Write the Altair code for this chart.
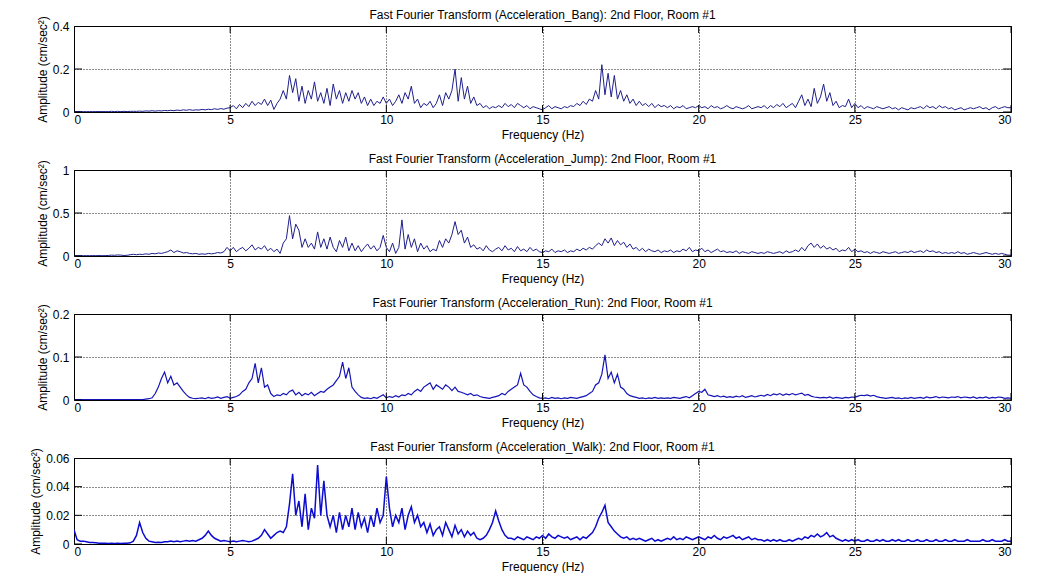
import altair as alt
import pandas as pd

# frequency grid (Hz), 0.1 Hz resolution
freq = [round(i * 0.1, 1) for i in range(301)]

bang = [
    0.002,0.002,0.002,0.002,0.002,0.002,0.002,0.002,0.002,0.002,
    0.002,0.002,0.003,0.002,0.003,0.002,0.003,0.002,0.003,0.003,
    0.003,0.004,0.003,0.005,0.004,0.006,0.004,0.006,0.005,0.007,
    0.006,0.008,0.006,0.009,0.007,0.01,0.008,0.011,0.008,0.01,
    0.009,0.012,0.01,0.013,0.011,0.015,0.012,0.016,0.013,0.018,
    0.02,0.03,0.015,0.035,0.02,0.04,0.025,0.05,0.03,0.045,
    0.035,0.06,0.03,0.055,0.012,0.04,0.06,0.1,0.06,0.17,
    0.09,0.155,0.05,0.12,0.04,0.1,0.06,0.14,0.05,0.09,
    0.04,0.11,0.03,0.13,0.06,0.1,0.04,0.09,0.05,0.1,
    0.06,0.09,0.04,0.07,0.03,0.06,0.03,0.05,0.04,0.07,
    0.04,0.06,0.03,0.05,0.08,0.04,0.09,0.06,0.12,0.04,
    0.06,0.02,0.04,0.03,0.05,0.02,0.04,0.08,0.03,0.09,
    0.06,0.1,0.2,0.05,0.16,0.06,0.12,0.04,0.07,0.03,
    0.04,0.02,0.03,0.015,0.025,0.02,0.03,0.02,0.04,0.025,
    0.035,0.02,0.04,0.03,0.02,0.03,0.015,0.025,0.02,0.015,
    0.01,0.02,0.03,0.015,0.025,0.02,0.015,0.025,0.02,0.03,
    0.025,0.04,0.03,0.05,0.035,0.06,0.05,0.1,0.06,0.22,
    0.08,0.18,0.07,0.17,0.06,0.1,0.05,0.08,0.04,0.06,
    0.03,0.05,0.03,0.04,0.025,0.04,0.02,0.035,0.025,0.03,
    0.02,0.03,0.015,0.025,0.02,0.03,0.015,0.02,0.025,0.02,
    0.03,0.02,0.025,0.015,0.03,0.02,0.025,0.015,0.02,0.03,
    0.02,0.015,0.025,0.02,0.015,0.02,0.03,0.015,0.02,0.025,
    0.02,0.03,0.015,0.03,0.02,0.035,0.025,0.04,0.02,0.03,
    0.04,0.02,0.05,0.08,0.03,0.06,0.025,0.11,0.04,0.07,
    0.13,0.05,0.09,0.03,0.05,0.02,0.03,0.025,0.06,0.02,
    0.04,0.02,0.03,0.015,0.025,0.02,0.015,0.025,0.02,0.015,
    0.02,0.025,0.015,0.02,0.01,0.02,0.015,0.01,0.02,0.015,
    0.02,0.025,0.015,0.03,0.02,0.025,0.015,0.03,0.02,0.025,
    0.015,0.02,0.01,0.015,0.02,0.01,0.015,0.02,0.015,0.02,
    0.025,0.015,0.02,0.01,0.02,0.025,0.015,0.02,0.025,0.02,
    0.02,
]

jump = [
    0.005,0.004,0.005,0.004,0.005,0.004,0.005,0.004,0.005,0.004,
    0.005,0.006,0.01,0.008,0.012,0.01,0.006,0.008,0.015,0.02,
    0.015,0.02,0.018,0.025,0.02,0.03,0.025,0.035,0.03,0.04,
    0.05,0.07,0.04,0.06,0.05,0.035,0.04,0.03,0.025,0.03,
    0.02,0.025,0.02,0.03,0.025,0.03,0.04,0.035,0.05,0.1,
    0.06,0.1,0.05,0.08,0.1,0.06,0.09,0.13,0.07,0.1,
    0.08,0.12,0.06,0.09,0.05,0.08,0.03,0.15,0.2,0.47,
    0.2,0.37,0.3,0.1,0.2,0.1,0.15,0.08,0.28,0.1,
    0.2,0.08,0.22,0.1,0.05,0.18,0.1,0.22,0.06,0.15,
    0.06,0.12,0.05,0.1,0.14,0.08,0.12,0.06,0.1,0.24,
    0.1,0.05,0.15,0.03,0.1,0.42,0.08,0.25,0.1,0.2,
    0.05,0.15,0.08,0.12,0.05,0.08,0.06,0.18,0.1,0.2,
    0.15,0.25,0.4,0.25,0.3,0.15,0.22,0.1,0.13,0.08,
    0.1,0.06,0.12,0.07,0.05,0.08,0.1,0.06,0.12,0.07,
    0.09,0.05,0.11,0.06,0.08,0.05,0.1,0.06,0.08,0.05,
    0.04,0.06,0.05,0.08,0.04,0.06,0.05,0.07,0.04,0.06,
    0.05,0.08,0.06,0.09,0.07,0.1,0.08,0.12,0.15,0.12,
    0.2,0.15,0.21,0.12,0.18,0.13,0.16,0.1,0.14,0.08,
    0.1,0.06,0.09,0.05,0.08,0.06,0.05,0.07,0.04,0.06,
    0.05,0.07,0.04,0.06,0.05,0.08,0.06,0.1,0.05,0.07,
    0.06,0.09,0.05,0.07,0.04,0.06,0.08,0.05,0.06,0.04,
    0.05,0.04,0.06,0.03,0.05,0.04,0.03,0.05,0.04,0.03,
    0.04,0.03,0.05,0.04,0.03,0.04,0.05,0.03,0.06,0.04,
    0.05,0.07,0.05,0.1,0.06,0.12,0.15,0.1,0.14,0.09,
    0.12,0.08,0.1,0.07,0.09,0.05,0.07,0.06,0.1,0.05,
    0.08,0.05,0.06,0.04,0.05,0.03,0.05,0.04,0.03,0.05,
    0.04,0.03,0.04,0.05,0.03,0.04,0.05,0.04,0.06,0.04,
    0.05,0.06,0.04,0.07,0.05,0.06,0.04,0.05,0.03,0.04,
    0.03,0.04,0.03,0.05,0.03,0.04,0.02,0.03,0.04,0.03,
    0.02,0.03,0.04,0.03,0.02,0.03,0.02,0.03,0.02,0.01,
    0.01,
]

run = [
    0.001,0.001,0.001,0.001,0.001,0.001,0.001,0.001,0.001,0.001,
    0.001,0.001,0.001,0.001,0.001,0.001,0.001,0.001,0.001,0.001,
    0.001,0.001,0.001,0.002,0.003,0.005,0.015,0.03,0.05,0.065,
    0.04,0.055,0.035,0.04,0.03,0.02,0.012,0.006,0.004,0.003,
    0.004,0.005,0.003,0.006,0.004,0.005,0.007,0.004,0.006,0.008,
    0.004,0.006,0.008,0.012,0.02,0.025,0.04,0.05,0.085,0.04,
    0.075,0.03,0.035,0.015,0.008,0.012,0.01,0.015,0.012,0.02,
    0.023,0.012,0.018,0.01,0.015,0.012,0.018,0.01,0.015,0.02,
    0.018,0.025,0.03,0.035,0.045,0.055,0.088,0.05,0.075,0.03,
    0.02,0.012,0.006,0.004,0.005,0.003,0.006,0.004,0.008,0.012,
    0.005,0.008,0.006,0.01,0.007,0.012,0.01,0.015,0.012,0.02,
    0.025,0.02,0.03,0.035,0.04,0.025,0.035,0.03,0.025,0.035,
    0.03,0.022,0.03,0.02,0.018,0.015,0.012,0.015,0.01,0.012,
    0.008,0.006,0.005,0.004,0.006,0.008,0.01,0.015,0.012,0.02,
    0.025,0.03,0.035,0.062,0.035,0.03,0.02,0.012,0.008,0.005,
    0.004,0.005,0.003,0.006,0.004,0.005,0.003,0.005,0.004,0.006,
    0.005,0.004,0.006,0.008,0.01,0.015,0.02,0.035,0.04,0.06,
    0.105,0.05,0.065,0.04,0.06,0.03,0.025,0.015,0.01,0.008,
    0.006,0.004,0.005,0.003,0.005,0.004,0.006,0.004,0.005,0.004,
    0.005,0.004,0.006,0.005,0.004,0.006,0.008,0.005,0.01,0.015,
    0.02,0.018,0.025,0.012,0.01,0.008,0.01,0.007,0.009,0.006,
    0.008,0.006,0.009,0.007,0.01,0.006,0.008,0.01,0.007,0.009,
    0.011,0.009,0.013,0.01,0.014,0.012,0.015,0.011,0.014,0.012,
    0.015,0.012,0.014,0.016,0.011,0.013,0.009,0.007,0.006,0.005,
    0.006,0.005,0.007,0.004,0.006,0.005,0.004,0.006,0.005,0.007,
    0.006,0.009,0.011,0.01,0.012,0.009,0.011,0.008,0.006,0.005,
    0.004,0.005,0.006,0.004,0.005,0.003,0.005,0.004,0.006,0.004,
    0.005,0.006,0.004,0.007,0.005,0.006,0.008,0.005,0.007,0.006,
    0.005,0.007,0.006,0.008,0.005,0.007,0.006,0.005,0.007,0.004,
    0.006,0.005,0.007,0.004,0.006,0.005,0.007,0.006,0.004,0.005,
    0.004,
]

walk = [
    0.01,0.003,0.002,0.002,0.0015,0.001,0.001,0.0008,0.0006,0.0005,
    0.0005,0.0004,0.0005,0.0004,0.0005,0.0004,0.0005,0.0006,0.0008,0.002,
    0.006,0.015,0.008,0.004,0.002,0.0015,0.001,0.0012,0.001,0.0015,
    0.0015,0.002,0.0015,0.002,0.0015,0.002,0.0025,0.002,0.0025,0.002,
    0.003,0.004,0.006,0.009,0.006,0.004,0.003,0.002,0.0025,0.002,
    0.0015,0.002,0.0015,0.002,0.0025,0.002,0.0015,0.002,0.003,0.004,
    0.006,0.01,0.007,0.004,0.006,0.008,0.009,0.008,0.012,0.028,
    0.049,0.02,0.03,0.012,0.035,0.01,0.025,0.018,0.055,0.02,
    0.044,0.02,0.012,0.02,0.008,0.022,0.01,0.02,0.012,0.025,
    0.01,0.022,0.012,0.018,0.008,0.02,0.012,0.025,0.015,0.02,
    0.047,0.025,0.012,0.02,0.015,0.025,0.01,0.02,0.026,0.015,
    0.02,0.012,0.015,0.008,0.014,0.006,0.01,0.012,0.006,0.015,
    0.01,0.005,0.013,0.007,0.01,0.005,0.009,0.006,0.008,0.004,
    0.003,0.004,0.006,0.01,0.015,0.023,0.016,0.01,0.006,0.004,
    0.004,0.003,0.005,0.004,0.003,0.005,0.004,0.003,0.005,0.004,
    0.006,0.004,0.007,0.005,0.004,0.006,0.005,0.004,0.005,0.003,
    0.004,0.005,0.003,0.005,0.004,0.006,0.008,0.012,0.018,0.022,
    0.027,0.015,0.012,0.009,0.007,0.005,0.004,0.005,0.003,0.004,
    0.003,0.004,0.003,0.002,0.003,0.004,0.002,0.003,0.002,0.003,
    0.004,0.003,0.005,0.003,0.004,0.003,0.005,0.004,0.003,0.004,
    0.005,0.004,0.003,0.005,0.004,0.006,0.004,0.003,0.005,0.004,
    0.005,0.006,0.004,0.005,0.003,0.004,0.005,0.003,0.004,0.003,
    0.003,0.002,0.003,0.002,0.003,0.002,0.003,0.002,0.002,0.003,
    0.002,0.003,0.004,0.003,0.005,0.004,0.006,0.005,0.007,0.005,
    0.006,0.008,0.005,0.006,0.004,0.003,0.002,0.003,0.002,0.003,
    0.002,0.003,0.002,0.002,0.003,0.002,0.002,0.003,0.002,0.003,
    0.002,0.002,0.003,0.002,0.003,0.002,0.002,0.003,0.002,0.002,
    0.003,0.002,0.002,0.003,0.002,0.002,0.003,0.002,0.002,0.003,
    0.002,0.002,0.003,0.002,0.002,0.002,0.003,0.002,0.002,0.002,
    0.002,0.003,0.002,0.002,0.003,0.002,0.002,0.002,0.003,0.002,
    0.002,
]

titles = [
    "Fast Fourier Transform (Acceleration_Bang): 2nd Floor, Room #1",
    "Fast Fourier Transform (Acceleration_Jump): 2nd Floor, Room #1",
    "Fast Fourier Transform (Acceleration_Run): 2nd Floor, Room #1",
    "Fast Fourier Transform (Acceleration_Walk): 2nd Floor, Room #1",
]
series = [bang, jump, run, walk]
y_max = [0.4, 1.0, 0.2, 0.06]
y_ticks = [[0, 0.2, 0.4], [0, 0.5, 1], [0, 0.1, 0.2], [0, 0.02, 0.04, 0.06]]
x_ticks = [0, 5, 10, 15, 20, 25, 30]
line_colors = ["#1f1f8c", "#1f1f8c", "#1414b8", "#0c0cd0"]
line_widths = [1, 1, 1.2, 1.5]

FONT = "Liberation Sans"


def panel(vals, title, ymax, yticks, color, lw):
    df = pd.DataFrame({"f": freq, "a": vals})
    xenc = alt.X(
        "f:Q",
        scale=alt.Scale(domain=[0, 30], nice=False, zero=False),
        axis=alt.Axis(values=x_ticks, title="Frequency (Hz)", format="d",
                      labelPadding=2, titlePadding=4),
    )
    yenc = alt.Y(
        "a:Q",
        scale=alt.Scale(domain=[0, ymax], nice=False),
        axis=alt.Axis(values=yticks, title="Amplitude (cm/sec²)", format="~g",
                      labelPadding=5, titlePadding=3),
    )
    line = alt.Chart(df).mark_line(color=color, strokeWidth=lw, clip=True).encode(
        x=xenc, y=yenc
    )
    xt = pd.DataFrame({"f": x_ticks * 2, "a": [0] * len(x_ticks) + [ymax] * len(x_ticks)})
    xtick = alt.Chart(xt).mark_tick(
        orient="vertical", size=14, thickness=1, color="black", clip=True, opacity=1
    ).encode(x=xenc, y=yenc)
    yt = pd.DataFrame({"f": [0] * len(yticks) + [30] * len(yticks), "a": yticks * 2})
    ytick = alt.Chart(yt).mark_tick(
        orient="horizontal", size=16, thickness=1, color="black", clip=True, opacity=1
    ).encode(x=xenc, y=yenc)
    return alt.layer(line, xtick, ytick).properties(
        width=937,
        height=86,
        title=alt.TitleParams(title, font=FONT, fontSize=12, fontWeight="normal",
                              color="black", anchor="middle", offset=-6, frame="group"),
    )


panels = [panel(series[i], titles[i], y_max[i], y_ticks[i], line_colors[i], line_widths[i])
          for i in range(4)]

chart = (
    alt.vconcat(*panels, spacing=58, bounds="flush")
    .properties(padding={"left": 21, "top": 0, "right": 5, "bottom": 0}, background="white")
    .configure_view(stroke="black", strokeWidth=1)
    .configure_axis(
        grid=True, gridColor="black", gridDash=[1, 2], gridOpacity=0.9, gridWidth=1,
        domain=False, ticks=False, tickSize=0,
        labelFont=FONT, labelFontSize=12, labelColor="black",
        titleFont=FONT, titleFontSize=12, titleFontWeight="normal", titleColor="black",
    )
)

chart.save("out.html", embed_options={"renderer": "svg", "actions": False})
